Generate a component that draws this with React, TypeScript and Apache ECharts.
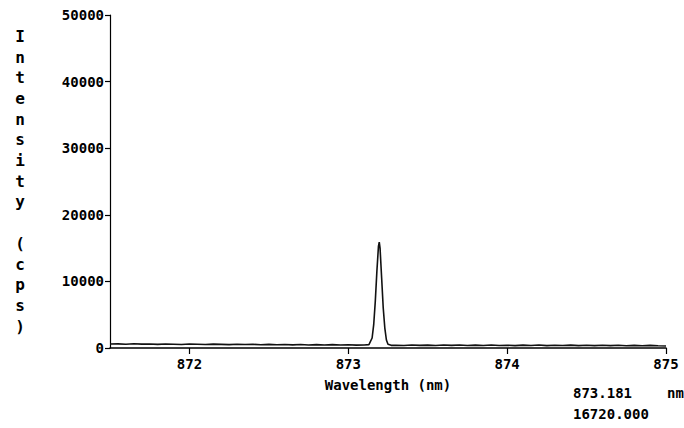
import React, { useEffect, useRef } from "react";
import * as echarts from "echarts";

const wavelengths: number[] = [
  871.5, 871.55, 871.6, 871.65, 871.7, 871.75, 871.8, 871.85, 871.9, 871.95,
  872.0, 872.05, 872.1, 872.15, 872.2, 872.25, 872.3, 872.35, 872.4, 872.45,
  872.5, 872.55, 872.6, 872.65, 872.7, 872.75, 872.8, 872.85, 872.9, 872.95,
  873.0, 873.05, 873.1, 873.13, 873.15, 873.16, 873.17, 873.18, 873.19, 873.195,
  873.2, 873.21, 873.22, 873.23, 873.24, 873.25, 873.27, 873.3, 873.35, 873.4,
  873.45, 873.5, 873.55, 873.6, 873.65, 873.7, 873.75, 873.8, 873.85, 873.9,
  873.95, 874.0, 874.05, 874.1, 874.15, 874.2, 874.25, 874.3, 874.35, 874.4,
  874.45, 874.5, 874.55, 874.6, 874.65, 874.7, 874.75, 874.8, 874.85, 874.9,
  874.95, 875.0,
];
const intensities: number[] = [
  600, 620, 560, 640, 580, 610, 550, 600, 570, 530,
  600, 560, 520, 580, 540, 500, 570, 520, 560, 490,
  540, 480, 530, 470, 520, 460, 510, 450, 500, 440,
  490, 430, 460, 500, 1500, 3500, 7000, 11500, 15300, 15900,
  15000, 10500, 6000, 3000, 1200, 550, 400, 420, 380, 450,
  400, 430, 370, 440, 390, 450, 380, 430, 370, 440,
  380, 420, 360, 430, 370, 440, 360, 420, 370, 430,
  360, 420, 350, 410, 350, 420, 340, 400, 340, 400,
  330, 300,
];
const xTickValues: number[] = [872, 873, 874, 875];
const yTickValues: number[] = [0, 10000, 20000, 30000, 40000, 50000];
const peakWavelength = "873.181";
const peakIntensity = "16720.000";
const yAxisTitle = "Intensity (cps)";
const xAxisTitle = "Wavelength (nm)";

const FONT = "DejaVu Sans Mono";

export default function App() {
  const ref = useRef<HTMLDivElement>(null);
  useEffect(() => {
    if (!ref.current) return;
    const chart = echarts.init(ref.current, null, { renderer: "svg" });
    const data = wavelengths.map((w, i) => [w, intensities[i]]);
    const vertical = yAxisTitle.split("").map((c) => (c === " " ? "" : c)).join("\n");
    chart.setOption({
      animation: false,
      backgroundColor: "#ffffff",
      grid: { left: 110, right: 18, top: 15, bottom: 80 },
      xAxis: {
        type: "value",
        min: 871.5,
        max: 875,
        name: xAxisTitle,
        nameLocation: "middle",
        nameGap: 30,
        nameTextStyle: { color: "#000", fontFamily: FONT, fontWeight: "bold", fontSize: 14 },
        axisLine: { show: true, lineStyle: { color: "#000", width: 1.5 } },
        axisTick: { show: true, length: 6, customValues: xTickValues, lineStyle: { color: "#000", width: 1.2 } },
        axisLabel: {
          customValues: xTickValues,
          margin: 9,
          color: "#000",
          fontFamily: FONT,
          fontWeight: "bold",
          fontSize: 14,
          formatter: (v: number) => String(v),
        },
        splitLine: { show: false },
      },
      yAxis: {
        type: "value",
        min: 0,
        max: 50000,
        interval: 10000,
        axisLine: { show: true, lineStyle: { color: "#000", width: 1.2 } },
        axisTick: { show: true, length: 5, lineStyle: { color: "#000", width: 1.2 } },
        axisLabel: {
          customValues: yTickValues,
          margin: 6,
          color: "#000",
          fontFamily: FONT,
          fontWeight: "bold",
          fontSize: 14,
          formatter: (v: number) => String(v),
        },
        splitLine: { show: false },
      },
      series: [
        {
          type: "line",
          data,
          showSymbol: false,
          symbol: "none",
          lineStyle: { color: "#111", width: 1.6 },
        },
      ],
      graphic: [
        {
          type: "text",
          x: 20,
          y: 26,
          style: {
            text: vertical,
            fill: "#000",
            font: `bold 16px ${FONT}`,
            lineHeight: 20.7,
            align: "center",
            verticalAlign: "top",
          },
        },
        {
          type: "text",
          x: 573,
          y: 393,
          style: {
            text: peakWavelength,
            fill: "#000",
            font: `bold 14px ${FONT}`,
            verticalAlign: "middle",
          },
        },
        {
          type: "text",
          x: 667,
          y: 393,
          style: {
            text: "nm",
            fill: "#000",
            font: `bold 14px ${FONT}`,
            verticalAlign: "middle",
          },
        },
        {
          type: "text",
          x: 573,
          y: 414,
          style: {
            text: peakIntensity,
            fill: "#000",
            font: `bold 14px ${FONT}`,
            verticalAlign: "middle",
          },
        },
      ],
    });
    return () => chart.dispose();
  }, []);
  return (
    <div
      ref={ref}
      style={{ position: "fixed", left: 0, top: 0, width: 684, height: 428 }}
    />
  );
}
